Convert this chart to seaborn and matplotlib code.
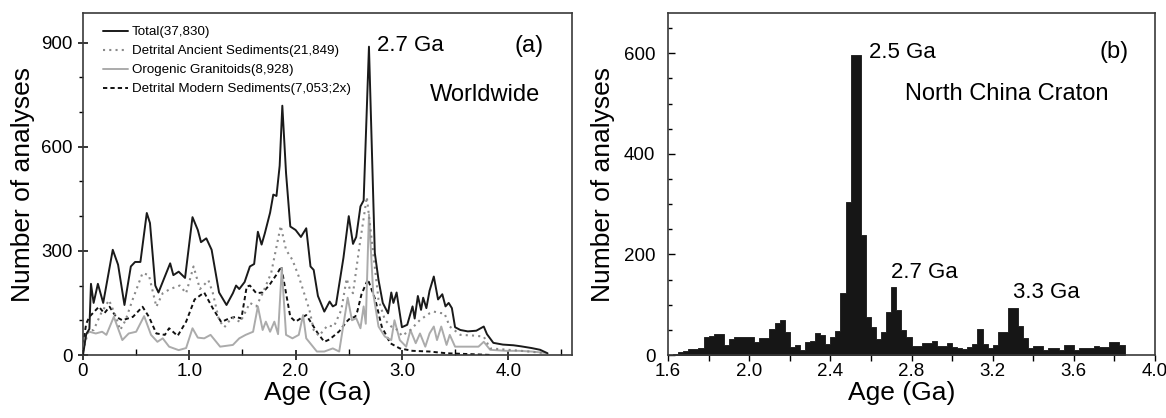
import numpy as np
import matplotlib
matplotlib.use("Agg")
import matplotlib.pyplot as plt
from matplotlib.ticker import MultipleLocator, FormatStrFormatter, FixedLocator, FixedFormatter
import seaborn as sns

sns.set_theme(style="ticks")
plt.rcParams['font.family'] = ['Liberation Sans', 'DejaVu Sans']
plt.rcParams['text.color'] = 'black'
plt.rcParams['axes.labelcolor'] = 'black'
plt.rcParams['xtick.color'] = 'black'
plt.rcParams['ytick.color'] = 'black'

# Panel (a): worldwide age spectra
total_age = [0, 0.03, 0.06, 0.075, 0.10, 0.14, 0.19, 0.28, 0.33, 0.39, 0.45, 0.49, 0.54, 0.60, 0.63,
             0.68, 0.71, 0.77, 0.82, 0.85, 0.90, 0.96, 1.03, 1.08, 1.11, 1.16, 1.21, 1.28, 1.35, 1.41,
             1.44, 1.47, 1.52, 1.57, 1.61, 1.645, 1.68, 1.71, 1.76, 1.79, 1.82, 1.85, 1.875, 1.91, 1.95,
             2.00, 2.05, 2.10, 2.14, 2.17, 2.21, 2.27, 2.32, 2.35, 2.38, 2.45, 2.50, 2.54, 2.57, 2.61,
             2.64, 2.69, 2.745, 2.78, 2.82, 2.87, 2.90, 2.92, 2.95, 3.00, 3.05, 3.10, 3.12, 3.15, 3.18,
             3.20, 3.23, 3.26, 3.30, 3.34, 3.38, 3.41, 3.44, 3.47, 3.50, 3.55, 3.62, 3.70, 3.77, 3.80,
             3.86, 3.95, 4.05, 4.12, 4.22, 4.30, 4.37]
total_n = [0, 60, 75, 205, 150, 205, 150, 303, 260, 144, 255, 268, 268, 409, 380,
           200, 180, 226, 264, 230, 240, 222, 397, 360, 325, 336, 303, 180, 144, 178,
           200, 190, 210, 255, 262, 355, 318, 350, 410, 462, 458, 545, 718, 524, 370,
           360, 340, 365, 255, 245, 170, 125, 154, 140, 145, 280, 400, 320, 340, 428,
           445, 888, 294, 216, 150, 120, 180, 150, 180, 80, 87, 140, 105, 170, 130,
           165, 135, 185, 226, 160, 175, 140, 150, 135, 80, 72, 68, 70, 82, 60,
           35, 30, 28, 25, 20, 15, 5]

ancient_age = [0, 0.05, 0.10, 0.17, 0.245, 0.31, 0.35, 0.40, 0.465, 0.56, 0.62, 0.69, 0.75, 0.82, 0.91,
               0.97, 1.04, 1.10, 1.18, 1.22, 1.28, 1.33, 1.40, 1.48, 1.57, 1.63, 1.69, 1.77, 1.86, 1.91,
               1.97, 2.03, 2.13, 2.17, 2.22, 2.30, 2.36, 2.43, 2.48, 2.51, 2.54, 2.60, 2.67, 2.73, 2.78,
               2.84, 2.90, 2.96, 3.00, 3.08, 3.17, 3.26, 3.30, 3.36, 3.40, 3.45, 3.55, 3.67, 3.77, 3.83,
               4.00, 4.20, 4.35]
ancient_n = [10, 70, 72, 120, 158, 110, 72, 100, 158, 236, 230, 139, 178, 190, 200,
             178, 255, 190, 215, 180, 100, 80, 108, 95, 150, 140, 178, 236, 372, 303,
             274, 226, 130, 72, 55, 85, 82, 130, 220, 190, 178, 312, 455, 293, 159,
             101, 82, 72, 55, 72, 101, 120, 125, 121, 120, 82, 58, 56, 53, 19,
             15, 10, 5]

granit_age = [0, 0.03, 0.06, 0.12, 0.18, 0.22, 0.29, 0.37, 0.43, 0.50, 0.575, 0.64, 0.70, 0.75, 0.81,
              0.90, 0.97, 1.03, 1.08, 1.14, 1.20, 1.29, 1.41, 1.47, 1.53, 1.60, 1.645, 1.69, 1.72, 1.76,
              1.80, 1.835, 1.87, 1.91, 1.97, 2.03, 2.07, 2.10, 2.20, 2.27, 2.35, 2.41, 2.49, 2.53, 2.57,
              2.61, 2.64, 2.66, 2.69, 2.73, 2.78, 2.84, 2.90, 2.93, 2.98, 3.04, 3.08, 3.13, 3.17, 3.22,
              3.26, 3.30, 3.33, 3.37, 3.42, 3.45, 3.50, 3.60, 3.72, 3.77, 3.83, 3.98, 4.10, 4.22, 4.35]
granit_n = [10, 60, 67, 62, 67, 58, 110, 43, 62, 67, 112, 58, 38, 48, 24,
            14, 20, 77, 50, 48, 58, 24, 29, 48, 58, 67, 140, 72, 96, 67,
            96, 60, 250, 58, 48, 58, 115, 48, 10, 10, 19, 10, 165, 100, 106,
            77, 140, 90, 405, 178, 82, 53, 43, 100, 43, 24, 72, 34, 62, 24,
            62, 82, 43, 82, 29, 58, 24, 24, 24, 38, 15, 12, 12, 10, 6]

modern_age = [0, 0.03, 0.06, 0.15, 0.20, 0.25, 0.31, 0.37, 0.47, 0.56, 0.62, 0.69, 0.77, 0.81, 0.89,
              0.97, 1.05, 1.14, 1.22, 1.30, 1.38, 1.44, 1.49, 1.54, 1.57, 1.63, 1.69, 1.75, 1.83, 1.865,
              1.91, 1.95, 2.00, 2.07, 2.10, 2.14, 2.21, 2.27, 2.32, 2.41, 2.48, 2.51, 2.56, 2.58, 2.62,
              2.68, 2.75, 2.81, 2.89, 2.98, 3.10, 3.26, 3.42, 3.60, 3.85]
modern_n = [30, 90, 110, 139, 120, 139, 110, 100, 110, 139, 110, 62, 58, 77, 55,
            96, 160, 180, 135, 95, 106, 110, 105, 197, 200, 178, 180, 200, 236, 255,
            178, 110, 96, 110, 115, 96, 62, 38, 45, 68, 96, 105, 110, 125, 175,
            218, 159, 82, 34, 19, 12, 10, 5, 3, 0]

series_labels = ["Total(37,830)", "Detrital Ancient Sediments(21,849)",
                 "Orogenic Granitoids(8,928)", "Detrital Modern Sediments(7,053;2x)"]

# Panel (b): North China Craton histogram, 25 Ma bins starting at 1.6 Ga
ncc_start = 1.6
ncc_bin = 0.025
ncc_counts = [0, 2, 5, 8, 11, 12, 14, 36, 37, 41,
              41, 20, 31, 36, 35, 36, 35, 26, 33, 33,
              51, 63, 70, 46, 15, 20, 10, 26, 27, 43,
              40, 22, 35, 48, 123, 304, 596, 596, 238, 75,
              55, 32, 46, 86, 136, 90, 50, 36, 18, 18,
              24, 24, 27, 17, 17, 23, 15, 13, 11, 16,
              21, 51, 21, 13, 19, 46, 46, 94, 94, 58,
              33, 13, 17, 17, 10, 13, 13, 10, 20, 20,
              10, 13, 13, 13, 18, 15, 15, 26, 26, 20]

W, H = 1166, 418
fig = plt.figure(figsize=(W / 100, H / 100), dpi=100)
fig.patch.set_facecolor("white")
ax1 = fig.add_axes([83 / W, 63 / H, 489 / W, 342 / H])
ax2 = fig.add_axes([668 / W, 63 / H, 487 / W, 342 / H])

# ---- (a) ----
sns.lineplot(x=modern_age, y=modern_n, ax=ax1, color="#111111", lw=1.4,
             linestyle=(0, (2.2, 1.6)), label=series_labels[3], zorder=2)
sns.lineplot(x=granit_age, y=granit_n, ax=ax1, color="#ababab", lw=1.4,
             label=series_labels[2], zorder=3)
sns.lineplot(x=ancient_age, y=ancient_n, ax=ax1, color="#8a8a8a", lw=1.5,
             linestyle=(0, (1, 2)), label=series_labels[1], zorder=4)
sns.lineplot(x=total_age, y=total_n, ax=ax1, color="#1a1a1a", lw=1.4,
             label=series_labels[0], zorder=5)

h, l = ax1.get_legend_handles_labels()
order = [l.index(s) for s in series_labels]
ax1.legend([h[i] for i in order], [l[i] for i in order], loc="upper left",
           bbox_to_anchor=(0.03, 0.978), borderaxespad=0, frameon=False,
           fontsize=9.6, handlelength=1.9, handletextpad=0.25, labelspacing=0.5)

ax1.set_xlim(0, 4.6)
ax1.set_ylim(0, 985)
ax1.xaxis.set_major_locator(FixedLocator([0, 1, 2, 3, 4]))
ax1.xaxis.set_major_formatter(FixedFormatter(["0", "1.0", "2.0", "3.0", "4.0"]))
ax1.xaxis.set_minor_locator(MultipleLocator(0.5))
ax1.yaxis.set_major_locator(MultipleLocator(300))
ax1.yaxis.set_minor_locator(MultipleLocator(100))
ax1.tick_params(axis="x", which="major", direction="inout", length=7, width=1.1, pad=2, labelsize=13.5)
ax1.tick_params(axis="x", which="minor", direction="in", length=4, width=1.0)
ax1.tick_params(axis="y", which="major", direction="inout", length=7, width=1.1, pad=4, labelsize=13.5)
ax1.tick_params(axis="y", which="minor", direction="out", length=3, width=1.0)
ax1.set_xlabel("Age (Ga)", fontsize=19)
ax1.set_ylabel("Number of analyses", fontsize=19)
ax1.xaxis.set_label_coords(0.48, -0.075)
ax1.yaxis.set_label_coords(-0.098, 0.5)

ax1.text(2.77, 891, "2.7 Ga", fontsize=16, ha="left", va="center")
ax1.text(4.33, 891, "(a)", fontsize=17, ha="right", va="center")
ax1.text(4.30, 750, "Worldwide", fontsize=17, ha="right", va="center")

# ---- (b) ----
edges = (ncc_start + ncc_bin * np.arange(len(ncc_counts) + 1)).tolist()
centers = [e + ncc_bin / 2 for e in edges[:-1]]
sns.histplot(x=centers, weights=ncc_counts, bins=edges, ax=ax2, element="step",
             fill=True, color="#161616", alpha=1, linewidth=0.6, edgecolor="#161616")

ax2.set_xlim(1.6, 4.0)
ax2.set_ylim(0, 680)
ax2.xaxis.set_major_locator(MultipleLocator(0.4))
ax2.xaxis.set_minor_locator(MultipleLocator(0.2))
ax2.xaxis.set_major_formatter(FormatStrFormatter("%.1f"))
ax2.yaxis.set_major_locator(MultipleLocator(200))
ax2.yaxis.set_minor_locator(MultipleLocator(50))
ax2.tick_params(axis="x", which="both", direction="out", length=4, width=1.0, pad=2, labelsize=13.5)
ax2.tick_params(axis="y", which="major", direction="in", length=5, width=1.0, pad=9, labelsize=13.5)
ax2.tick_params(axis="y", which="minor", direction="in", length=3, width=1.0)
ax2.set_xlabel("Age (Ga)", fontsize=19)
ax2.set_ylabel("Number of analyses", fontsize=19)
ax2.xaxis.set_label_coords(0.48, -0.075)
ax2.yaxis.set_label_coords(-0.109, 0.5)

ax2.text(2.59, 602, "2.5 Ga", fontsize=16, ha="left", va="center")
ax2.text(3.87, 602, "(b)", fontsize=17, ha="right", va="center")
ax2.text(3.27, 519, "North China Craton", fontsize=17, ha="center", va="center")
ax2.text(2.70, 165, "2.7 Ga", fontsize=16, ha="left", va="center")
ax2.text(3.30, 125, "3.3 Ga", fontsize=16, ha="left", va="center")

for ax in (ax1, ax2):
    ax.set_facecolor("white")
    for sp in ax.spines.values():
        sp.set_visible(True)
        sp.set_color("#3a3a3a")
        sp.set_linewidth(1.2)

fig.savefig("out.png", dpi=100, facecolor="white")
